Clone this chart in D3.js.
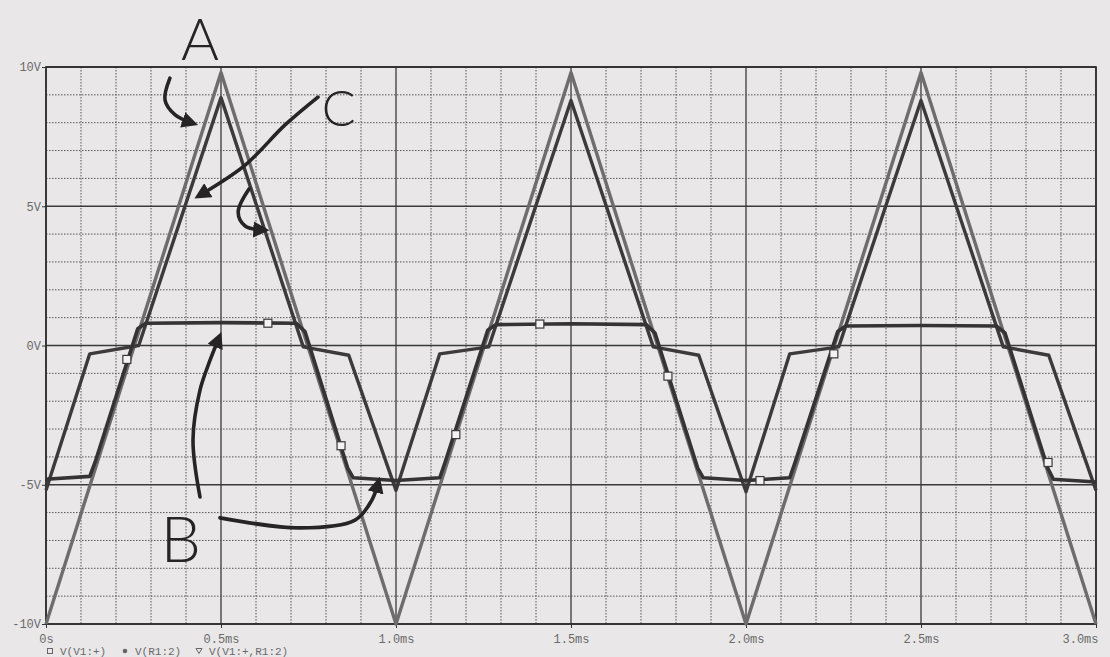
<!DOCTYPE html>
<html><head><meta charset="utf-8">
<script src="https://cdn.jsdelivr.net/npm/d3@7"></script>
<style>body{margin:0;background:#e9e7e8;overflow:hidden}</style>
</head><body><svg id="chart" width="1110" height="657"></svg>
<script>
// ---- data (time in ms, voltage in V) ----
const timesA  = [0, 0.5, 1.0, 1.5, 2.0, 2.5, 3.0];
const valuesA = [-10, 9.8, -10, 9.8, -10, 9.8, -10];

const timesB  = [0, 0.125, 0.14, 0.262, 0.285, 0.5, 0.715, 0.74, 0.862, 0.878, 1.0,
                 1.125, 1.14, 1.262, 1.285, 1.5, 1.715, 1.74, 1.862, 1.878, 2.0,
                 2.125, 2.14, 2.262, 2.285, 2.5, 2.715, 2.74, 2.862, 2.878, 3.0];
const valuesB = [-4.8, -4.7, -4.2, 0.6, 0.8, 0.82, 0.8, 0.5, -4.4, -4.75, -4.85,
                 -4.75, -4.2, 0.55, 0.75, 0.78, 0.75, 0.45, -4.4, -4.75, -4.85,
                 -4.75, -4.2, 0.5, 0.7, 0.72, 0.7, 0.45, -4.4, -4.8, -4.9];

const timesC  = [0, 0.125, 0.265, 0.5, 0.735, 0.865, 1.0,
                 1.125, 1.265, 1.5, 1.735, 1.865, 2.0,
                 2.125, 2.265, 2.5, 2.735, 2.865, 3.0];
const valuesC = [-5.2, -0.3, 0.0, 8.9, -0.05, -0.35, -5.2,
                 -0.3, -0.05, 8.8, -0.05, -0.35, -5.25,
                 -0.3, -0.05, 8.8, -0.05, -0.35, -5.2];

const markerTimes  = [0.231, 0.634, 0.843, 1.171, 1.411, 1.777, 2.04, 2.251, 2.863];
const markerValues = [-0.5, 0.8, -3.6, -3.2, 0.77, -1.1, -4.85, -0.3, -4.2];

const yTicks = [10, 5, 0, -5, -10];
const yTickLabels = ["10V", "5V", "0V", "-5V", "-10V"];
const xTicks = [0, 0.5, 1.0, 1.5, 2.0, 2.5, 3.0];
const xTickLabels = ["0s", "0.5ms", "1.0ms", "1.5ms", "2.0ms", "2.5ms", "3.0ms"];
const legendLabels = ["V(V1:+)", "V(R1:2)", "V(V1:+,R1:2)"];

// hand-written annotations (data coordinates)
const annoLetters = ["A", "C", "B"];
const annoLetterT = [0.44, 0.836, 0.385];
const annoLetterV = [11.05, 8.55, -6.9];
const arrowA  = [[0.354, 9.6], [0.34, 8.81], [0.369, 8.28], [0.417, 7.99]];
const arrowC1 = [[0.777, 8.92], [0.683, 7.92], [0.569, 6.48], [0.44, 5.40]];
const arrowC2 = [[0.58, 5.62], [0.549, 4.79], [0.569, 4.29], [0.62, 4.15]];
const arrowB1 = [[0.44, -5.44], [0.42, -3.39], [0.44, -1.6], [0.469, -0.52], [0.494, 0.27]];
const arrowB2 = [[0.497, -6.19], [0.726, -6.55], [0.883, -6.27], [0.931, -5.55], [0.949, -4.94]];

// ---- drawing ----
const svg = d3.select("#chart");
const L = 46, R = 1096, T = 67, B = 624;
const x = d3.scaleLinear().domain([0, 3]).range([L, R]);
const y = d3.scaleLinear().domain([-10, 10]).range([B, T]);

svg.append("rect").attr("width", 1110).attr("height", 657).attr("fill", "#e9e7e8");

const grid = svg.append("g");
d3.range(0, 3.0001, 0.1).forEach(t => {
  const major = Math.abs(t * 2 - Math.round(t * 2)) < 1e-6;
  grid.append("line").attr("x1", x(t)).attr("x2", x(t)).attr("y1", T).attr("y2", B)
    .attr("stroke", major ? "#3a3a3a" : "#555")
    .attr("stroke-width", major ? 1.3 : 1)
    .attr("stroke-dasharray", major ? null : "1.5,1.5");
});
d3.range(-10, 10.0001, 1).forEach(v => {
  const major = v % 5 === 0;
  grid.append("line").attr("x1", L).attr("x2", R).attr("y1", y(v)).attr("y2", y(v))
    .attr("stroke", major ? "#3a3a3a" : "#555")
    .attr("stroke-width", major ? 1.3 : 1)
    .attr("stroke-dasharray", major ? null : "1.5,1.5");
});
svg.append("rect").attr("x", L).attr("y", T).attr("width", R - L).attr("height", B - T)
  .attr("fill", "none").attr("stroke", "#2a2a2a").attr("stroke-width", 1.6);

// axes
const yAxis = d3.axisLeft(y).tickValues(yTicks).tickFormat((d, i) => yTickLabels[i]).tickSize(4).tickPadding(1);
const gy = svg.append("g").attr("transform", `translate(${L},0)`).call(yAxis);
const xAxis = d3.axisBottom(x).tickValues(xTicks).tickFormat((d, i) => xTickLabels[i]).tickSize(4).tickPadding(6);
const gx = svg.append("g").attr("transform", `translate(0,${B})`).call(xAxis);
[gy, gx].forEach(g => {
  g.select(".domain").remove();
  g.selectAll("line").attr("stroke", "#333");
  g.selectAll("text").attr("fill", "#6a6a6a").attr("font-family", "Liberation Mono, monospace").attr("font-size", 12);
});
gx.selectAll("text").filter((d, i) => i === xTicks.length - 1).attr("text-anchor", "end").attr("dx", 2);

// traces
const line = d3.line().x(d => x(d[0])).y(d => y(d[1]));
const zip = (ts, vs) => ts.map((t, i) => [t, vs[i]]);
svg.append("path").datum(zip(timesA, valuesA)).attr("d", line)
  .attr("fill", "none").attr("stroke", "#6e6c6d").attr("stroke-width", 3.4).attr("stroke-linejoin", "round");
svg.append("path").datum(zip(timesC, valuesC)).attr("d", line)
  .attr("fill", "none").attr("stroke", "#3c3a3b").attr("stroke-width", 3.4).attr("stroke-linejoin", "round");
svg.append("path").datum(zip(timesB, valuesB)).attr("d", line)
  .attr("fill", "none").attr("stroke", "#353334").attr("stroke-width", 3.6).attr("stroke-linejoin", "round");

svg.append("g").selectAll("rect").data(zip(markerTimes, markerValues)).join("rect")
  .attr("x", d => x(d[0]) - 4).attr("y", d => y(d[1]) - 4).attr("width", 8).attr("height", 8)
  .attr("fill", "#f4f2f3").attr("stroke", "#3a3a3a").attr("stroke-width", 1.2);

// legend
const lg = svg.append("g").attr("font-family", "Liberation Mono, monospace").attr("font-size", 11).attr("fill", "#6a6a6a");
const legSym = [50, 125, 199];
const legTxt = [60, 135, 209];
const ly = 651;
lg.append("rect").attr("x", legSym[0] - 2.5).attr("y", ly - 2.5).attr("width", 5).attr("height", 5).attr("fill", "none").attr("stroke", "#666");
lg.append("circle").attr("cx", legSym[1]).attr("cy", ly).attr("r", 2.3).attr("fill", "#666");
lg.append("path").attr("d", `M${legSym[2]-3},${ly-2.5} L${legSym[2]+3},${ly-2.5} L${legSym[2]},${ly+2.5} Z`).attr("fill", "none").attr("stroke", "#666");
legendLabels.forEach((s, i) => {
  lg.append("text").attr("x", legTxt[i]).attr("y", ly + 4).text(s);
});

// annotations (ink)
const ink = "#262425";
const defs = svg.append("defs");
defs.append("marker").attr("id", "ah").attr("viewBox", "0 0 10 10").attr("refX", 6).attr("refY", 5)
  .attr("markerWidth", 4.5).attr("markerHeight", 4.5).attr("orient", "auto")
  .append("path").attr("d", "M0,0 L10,5 L0,10 Z").attr("fill", ink);
const curve = d3.line().x(d => x(d[0])).y(d => y(d[1])).curve(d3.curveCatmullRom);
[arrowA, arrowC1, arrowC2, arrowB1, arrowB2].forEach(a => {
  svg.append("path").datum(a).attr("d", curve).attr("fill", "none").attr("stroke", ink)
    .attr("stroke-width", 3.6).attr("stroke-linecap", "round").attr("marker-end", "url(#ah)");
});
const letterSize = [58, 50, 64];
annoLetters.forEach((s, i) => {
  svg.append("text").attr("x", x(annoLetterT[i])).attr("y", y(annoLetterV[i]))
    .attr("text-anchor", "middle").attr("dominant-baseline", "central")
    .attr("font-family", "Lato, DejaVu Sans, sans-serif").attr("font-weight", 300)
    .attr("font-size", letterSize[i]).attr("fill", ink).text(s);
});
</script></body></html>
